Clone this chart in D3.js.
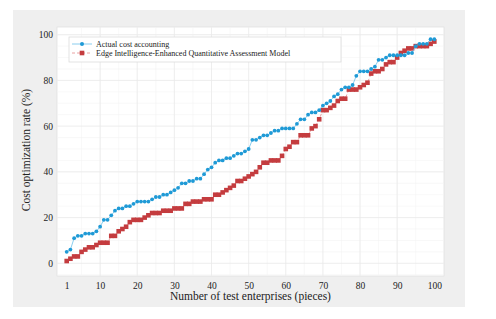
<!DOCTYPE html>
<html>
<head>
<meta charset="utf-8">
<script src="https://cdnjs.cloudflare.com/ajax/libs/d3/7.8.5/d3.min.js"></script>
<style>
  body { margin: 0; background: #fff; }
  svg { display: block; font-family: "Liberation Serif", "Times New Roman", serif; }
</style>
</head>
<body>
<svg width="496" height="319"></svg>
<script>
var svg = d3.select("svg");

// x = enterprise index 1..100
var enterprises = d3.range(1, 101);

var actualCost = [5, 6, 11, 12, 12, 13, 13, 13, 14, 16,
    19, 19, 21, 23, 24, 24, 25, 25, 26, 27,
    27, 27, 27, 28, 29, 29, 30, 30, 31, 32,
    33, 35, 35, 36, 36, 37, 37, 39, 41, 42,
    44, 45, 45, 46, 46, 47, 48, 48, 49, 50,
    54, 54, 55, 56, 56, 57, 58, 58, 59, 59,
    59, 59, 61, 63, 63, 65, 66, 66, 67, 69,
    70, 71, 73, 74, 76, 77, 77, 78, 82, 84,
    84, 84, 85, 86, 89, 89, 90, 91, 91, 91,
    91, 91, 92, 92, 95, 96, 96, 96, 98, 98];

var edgeModel = [1, 2, 3, 3, 5, 6, 7, 7, 8, 9,
    9, 9, 12, 12, 14, 15, 16, 18, 19, 19,
    19, 20, 21, 22, 22, 22, 23, 23, 23, 24,
    24, 24, 26, 26, 27, 27, 27, 28, 28, 28,
    30, 30, 31, 32, 33, 34, 36, 36, 37, 38,
    39, 40, 42, 44, 44, 45, 45, 45, 47, 50,
    51, 53, 53, 56, 56, 56, 59, 60, 63, 67,
    67, 68, 69, 71, 72, 72, 76, 76, 76, 77,
    78, 79, 83, 84, 84, 85, 87, 88, 88, 90,
    92, 93, 94, 94, 95, 95, 95, 95, 96, 97];

var xTicks = [1, 10, 20, 30, 40, 50, 60, 70, 80, 90, 100];
var yTicks = [0, 20, 40, 60, 80, 100];

var seriesNames = ["Actual cost accounting", "Edge Intelligence-Enhanced Quantitative Assessment Model"];

var BLUE = "#1f9ad6",
    RED = "#c43c3f";

// outer grey panel + white plot area
svg.append("rect")
    .attr("x", 13).attr("y", 10)
    .attr("width", 452).attr("height", 297)
    .attr("fill", "#efefef");

var plot = { left: 57, top: 27, right: 444, bottom: 276 };

svg.append("rect")
    .attr("x", plot.left).attr("y", plot.top)
    .attr("width", plot.right - plot.left).attr("height", plot.bottom - plot.top)
    .attr("fill", "#fff")
    .attr("stroke", "#e2e2e2")
    .attr("stroke-width", 0.8);

var x = d3.scaleLinear().domain([1, 100]).range([66.7, 434.3]);
var y = d3.scaleLinear().domain([0, 100]).range([263.3, 34.7]);

// grid: minor then major
var grid = svg.append("g").attr("class", "grid");
var minorX = d3.range(5, 100, 5),
    minorY = d3.range(-10, 110, 5);

grid.selectAll("line.mx")
    .data(minorX)
    .enter().append("line")
    .attr("x1", function (d) { return x(d); })
    .attr("x2", function (d) { return x(d); })
    .attr("y1", plot.top).attr("y2", plot.bottom)
    .attr("stroke", "#f3f3f3").attr("stroke-width", 0.6);

grid.selectAll("line.my")
    .data(minorY.filter(function (d) { return y(d) > plot.top && y(d) < plot.bottom; }))
    .enter().append("line")
    .attr("y1", function (d) { return y(d); })
    .attr("y2", function (d) { return y(d); })
    .attr("x1", plot.left).attr("x2", plot.right)
    .attr("stroke", "#f3f3f3").attr("stroke-width", 0.6);

// axes (tick labels only, no domain/tick marks)
var xAxis = svg.append("g")
    .attr("transform", "translate(0," + (plot.bottom) + ")")
    .call(d3.axisBottom(x).tickValues(xTicks).tickSize(0).tickPadding(6));
xAxis.select(".domain").remove();
xAxis.selectAll("text")
    .attr("font-family", "Liberation Serif, serif")
    .attr("font-size", 9.5)
    .attr("fill", "#222");

var yAxis = svg.append("g")
    .attr("transform", "translate(" + plot.left + ",0)")
    .call(d3.axisLeft(y).tickValues(yTicks).tickSize(0).tickPadding(4));
yAxis.select(".domain").remove();
yAxis.selectAll("text")
    .attr("font-family", "Liberation Serif, serif")
    .attr("font-size", 9.5)
    .attr("fill", "#222");

// major grid at the ticks
grid.selectAll("line.gx")
    .data(xTicks.slice(1, -1))
    .enter().append("line")
    .attr("x1", function (d) { return x(d); })
    .attr("x2", function (d) { return x(d); })
    .attr("y1", plot.top).attr("y2", plot.bottom)
    .attr("stroke", "#e9e9e9").attr("stroke-width", 0.7);

grid.selectAll("line.gy")
    .data(yTicks)
    .enter().append("line")
    .attr("y1", function (d) { return y(d); })
    .attr("y2", function (d) { return y(d); })
    .attr("x1", plot.left).attr("x2", plot.right)
    .attr("stroke", "#e9e9e9").attr("stroke-width", 0.7);

// axis titles
svg.append("text")
    .attr("x", (plot.left + plot.right) / 2 + 0)
    .attr("y", 300)
    .attr("text-anchor", "middle")
    .attr("font-size", 11.5)
    .attr("fill", "#222")
    .text("Number of test enterprises (pieces)");

svg.append("text")
    .attr("transform", "translate(30," + 150 + ") rotate(-90)")
    .attr("text-anchor", "middle")
    .attr("font-size", 11.5)
    .attr("fill", "#222")
    .text("Cost optimization rate (%)");

// series
var line = d3.line()
    .x(function (d, i) { return x(enterprises[i]); })
    .y(function (d) { return y(d); });

svg.append("path")
    .datum(edgeModel)
    .attr("fill", "none")
    .attr("stroke", "#e58a8c")
    .attr("stroke-width", 0.8)
    .attr("stroke-dasharray", "3,2")
    .attr("d", line);

svg.append("g")
    .selectAll("rect")
    .data(edgeModel)
    .enter().append("rect")
    .attr("x", function (d, i) { return x(enterprises[i]) - 2.3; })
    .attr("y", function (d) { return y(d) - 2.3; })
    .attr("width", 4.6).attr("height", 4.6)
    .attr("fill", RED);

svg.append("path")
    .datum(actualCost)
    .attr("fill", "none")
    .attr("stroke", "#6cc0ea")
    .attr("stroke-width", 0.8)
    .attr("d", line);

svg.append("g")
    .selectAll("circle")
    .data(actualCost)
    .enter().append("circle")
    .attr("cx", function (d, i) { return x(enterprises[i]); })
    .attr("cy", function (d) { return y(d); })
    .attr("r", 1.9)
    .attr("fill", BLUE);

// legend
var legend = svg.append("g");
legend.append("rect")
    .attr("x", 69).attr("y", 37)
    .attr("width", 272).attr("height", 25)
    .attr("fill", "#fff")
    .attr("stroke", "#dcdcdc")
    .attr("stroke-width", 0.8);

var rows = legend.selectAll("g.row")
    .data(seriesNames)
    .enter().append("g")
    .attr("transform", function (d, i) { return "translate(0," + (44 + i * 9) + ")"; });

rows.append("line")
    .attr("x1", 72).attr("x2", 92)
    .attr("stroke", function (d, i) { return i === 0 ? "#6cc0ea" : "#e58a8c"; })
    .attr("stroke-width", 0.8)
    .attr("stroke-dasharray", function (d, i) { return i === 0 ? null : "3,2"; });

rows.each(function (d, i) {
    var g = d3.select(this);
    if (i === 0) {
        g.append("circle").attr("cx", 82).attr("cy", 0).attr("r", 2).attr("fill", BLUE);
    } else {
        g.append("rect").attr("x", 79.7).attr("y", -2.3).attr("width", 4.6).attr("height", 4.6).attr("fill", RED);
    }
});

rows.append("text")
    .attr("x", 96)
    .attr("dy", "0.33em")
    .attr("font-size", 8.0)
    .attr("fill", "#222")
    .text(function (d) { return d; });
</script>
</body>
</html>
